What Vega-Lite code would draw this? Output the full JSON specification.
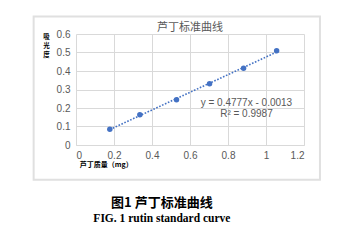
{
  "$schema": "https://vega.github.io/schema/vega-lite/v6.json",
  "autosize": {"type": "none"},
  "width": 228,
  "height": 111,
  "padding": {"left": 76, "top": 34, "right": 44, "bottom": 98},
  "background": "white",
  "config": {
    "view": {"stroke": null},
    "axis": {"labelFont": "Liberation Sans", "labelFontSize": 10, "labelColor": "#595959", "gridColor": "#d9d9d9", "gridWidth": 1, "grid": true, "ticks": false, "domain": false, "title": null, "format": "~g", "labelPadding": 6, "tickCount": 6},
    "axisX": {"domain": true, "domainColor": "#d9d9d9", "labelPadding": 5}
  },
  "data": {"values": [
    {"mass": 0.178, "abs": 0.085},
    {"mass": 0.336, "abs": 0.164},
    {"mass": 0.529, "abs": 0.245},
    {"mass": 0.703, "abs": 0.331},
    {"mass": 0.882, "abs": 0.415},
    {"mass": 1.056, "abs": 0.509}
  ]},
  "layer": [
    {
      "mark": {"type": "point", "filled": true, "opacity": 1, "size": 30, "color": "#4472C4"},
      "encoding": {
        "x": {"field": "mass", "type": "quantitative", "scale": {"domain": [0, 1.2], "nice": false, "zero": false}},
        "y": {"field": "abs", "type": "quantitative", "scale": {"domain": [0, 0.6], "nice": false, "zero": false}}
      }
    },
    {
      "transform": [{"regression": "abs", "on": "mass"}],
      "mark": {"type": "line", "color": "#4472C4", "strokeWidth": 1.6, "strokeDash": [1.6, 1.6]},
      "encoding": {
        "x": {"field": "mass", "type": "quantitative"},
        "y": {"field": "abs", "type": "quantitative"}
      }
    },
    {
      "data": {"values": [{}]},
      "mark": {"type": "rect", "fill": null, "stroke": "#e0e0e0", "strokeWidth": 2},
      "encoding": {
        "x": {"datum": -0.223, "type": "quantitative"},
        "x2": {"datum": 1.284},
        "y": {"datum": 0.695, "type": "quantitative"},
        "y2": {"datum": -0.188}
      }
    },
    {
      "data": {"values": [{}]},
      "mark": {"type": "text", "font": "Noto Sans CJK SC", "fontSize": 11, "fontWeight": "normal", "color": "#595959", "text": "芦丁标准曲线", "baseline": "middle"},
      "encoding": {"x": {"datum": 0.6, "type": "quantitative"}, "y": {"datum": 0.63, "type": "quantitative"}}
    },
    {
      "data": {"values": [{"c": "吸", "k": 0.6}, {"c": "光", "k": 0.552}, {"c": "度", "k": 0.504}]},
      "mark": {"type": "text", "font": "Noto Sans CJK SC", "fontSize": 6.5, "fontWeight": "bold", "color": "#000000", "baseline": "top"},
      "encoding": {"x": {"datum": -0.155, "type": "quantitative"}, "y": {"field": "k", "type": "quantitative"}, "text": {"field": "c"}}
    },
    {
      "data": {"values": [{}]},
      "mark": {"type": "text", "font": "Noto Sans CJK SC", "fontSize": 7, "fontWeight": "bold", "color": "#000000", "text": "芦丁质量（mg）", "align": "left", "baseline": "middle"},
      "encoding": {"x": {"datum": 0.02, "type": "quantitative"}, "y": {"datum": -0.11, "type": "quantitative"}}
    },
    {
      "data": {"values": [{}]},
      "mark": {"type": "text", "font": "Liberation Sans", "fontSize": 10, "fontWeight": "normal", "color": "#595959", "text": "y = 0.4777x - 0.0013", "baseline": "middle"},
      "encoding": {"x": {"datum": 0.897, "type": "quantitative"}, "y": {"datum": 0.229, "type": "quantitative"}}
    },
    {
      "data": {"values": [{}]},
      "mark": {"type": "text", "font": "Liberation Sans", "fontSize": 10, "fontWeight": "normal", "color": "#595959", "text": "R² = 0.9987", "baseline": "middle"},
      "encoding": {"x": {"datum": 0.897, "type": "quantitative"}, "y": {"datum": 0.167, "type": "quantitative"}}
    },
    {
      "data": {"values": [{}]},
      "mark": {"type": "text", "font": "Noto Sans CJK SC", "fontSize": 13, "fontWeight": "bold", "color": "#000000", "text": "图1 芦丁标准曲线", "baseline": "middle"},
      "encoding": {"x": {"datum": 0.452, "type": "quantitative"}, "y": {"datum": -0.3125, "type": "quantitative"}}
    },
    {
      "data": {"values": [{}]},
      "mark": {"type": "text", "font": "Liberation Serif", "fontSize": 11.5, "fontWeight": "bold", "color": "#000000", "text": "FIG. 1 rutin standard curve", "baseline": "middle"},
      "encoding": {"x": {"datum": 0.452, "type": "quantitative"}, "y": {"datum": -0.399, "type": "quantitative"}}
    }
  ]
}
